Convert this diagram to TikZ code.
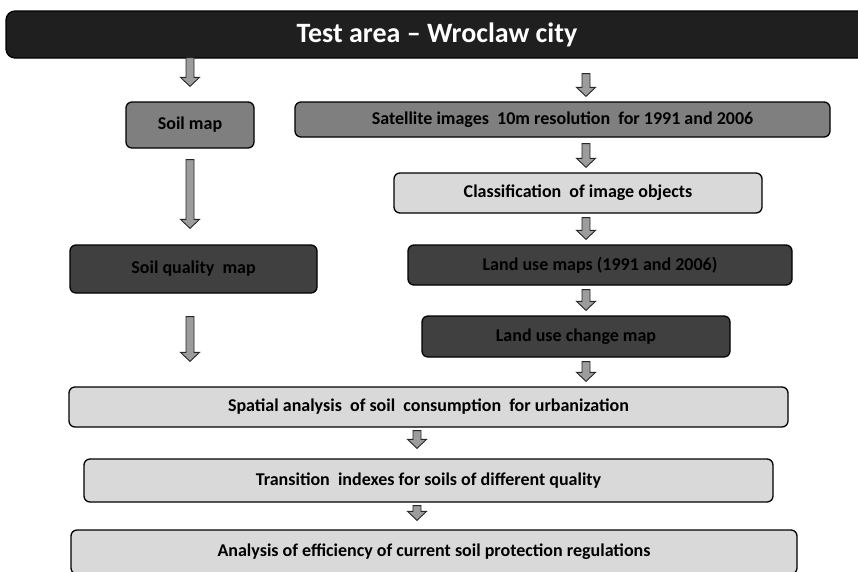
\documentclass[tikz,border=0pt]{standalone}
\usepackage{fontspec}
\setmainfont{Carlito}
\usetikzlibrary{calc}
\definecolor{ink}{HTML}{1F1F1F}
\definecolor{midgray}{HTML}{7F7F7F}
\definecolor{deepgray}{HTML}{404040}
\definecolor{palegray}{HTML}{D9D9D9}
\definecolor{arrowgray}{HTML}{9C9C9C}

% hollow block arrow between two points (top -> bottom)
\newcommand{\flowarrow}[2]{%
  \draw[flow] let \p1=(#1), \p2=(#2) in
    (\x1-4pt,\y1) -- (\x1+4pt,\y1) -- (\x1+4pt,\y2+9pt) -- (\x1+9.5pt,\y2+9pt)
    -- (\x1,\y2) -- (\x1-9.5pt,\y2+9pt) -- (\x1-4pt,\y2+9pt) -- cycle;}

\begin{document}
\begin{tikzpicture}[x=1pt,y=-1pt,
    box/.style={draw=black, line width=1.3pt, rounded corners=6pt, inner sep=0pt, font=\bfseries\fontsize{18}{21}\selectfont, text=black},
    flow/.style={draw=black!85, fill=arrowgray, line width=0.9pt, line join=miter}]
  \useasboundingbox (0,0) rectangle (858,571);
  \node[box, fill=ink, text=white, rounded corners=9pt, minimum width=862pt, minimum height=47pt, font=\bfseries\fontsize{28}{33}\selectfont] (title) at (437,34.5) {Test area -- Wroclaw city};
  \node[box, fill=midgray, minimum width=128pt, minimum height=46pt] (soil) at (190,125) {Soil map};
  \node[box, fill=midgray, minimum width=535pt, minimum height=35pt] (sat) at (562.5,119.5) {Satellite images\ \ 10m resolution\ \ for 1991 and 2006};
  \node[box, fill=palegray, minimum width=368pt, minimum height=40pt] (class) at (578,193) {Classification\ \ of image objects};
  \node[box, fill=deepgray, minimum width=384pt, minimum height=40pt] (lum) at (600,265) {Land use maps (1991 and 2006)};
  \node[box, fill=deepgray, minimum width=308pt, minimum height=41pt] (luc) at (576,336.5) {Land use change map};
  \node[box, fill=deepgray, minimum width=247pt, minimum height=48pt] (sqm) at (193.5,269) {Soil quality\ \ map};
  \node[box, fill=palegray, minimum width=719pt, minimum height=40pt] (spatial) at (428.5,407) {Spatial analysis\ \ of soil\ \ consumption\ \ for urbanization};
  \node[box, fill=palegray, minimum width=689pt, minimum height=43pt] (trans) at (428.5,480.5) {Transition\ \ indexes for soils of different quality};
  \node[box, fill=palegray, minimum width=726pt, minimum height=44pt] (eff) at (434,552) {Analysis of efficiency of current soil protection regulations};
  \coordinate (colR) at (586,0);
  \coordinate (colM) at (417,0);
  % left column
  \flowarrow{$(title.south -| soil)+(0,-1)$}{$(soil.north)+(0,-15)$}
  \flowarrow{$(soil.south)+(0,11)$}{$(sqm.north -| soil)+(0,-16)$}
  \flowarrow{$(sqm.south -| soil)+(0,23)$}{$(spatial.north -| soil)+(0,-25)$}
  % right column
  \flowarrow{$(title.south -| colR)+(0,15)$}{$(sat.north -| colR)+(0,-5)$}
  \flowarrow{$(sat.south -| colR)+(0,6)$}{$(class.north -| colR)+(0,-5)$}
  \flowarrow{$(class.south -| colR)+(0,4)$}{$(lum.north -| colR)+(0,-5)$}
  \flowarrow{$(lum.south -| colR)+(0,4)$}{$(luc.north -| colR)+(0,-5)$}
  \flowarrow{$(luc.south -| colR)+(0,4)$}{$(spatial.north -| colR)+(0,-5)$}
  % bottom
  \flowarrow{$(spatial.south -| colM)+(0,3)$}{$(trans.north -| colM)+(0,-10)$}
  \flowarrow{$(trans.south -| colM)+(0,3)$}{$(eff.north -| colM)+(0,-9)$}
\end{tikzpicture}
\end{document}
